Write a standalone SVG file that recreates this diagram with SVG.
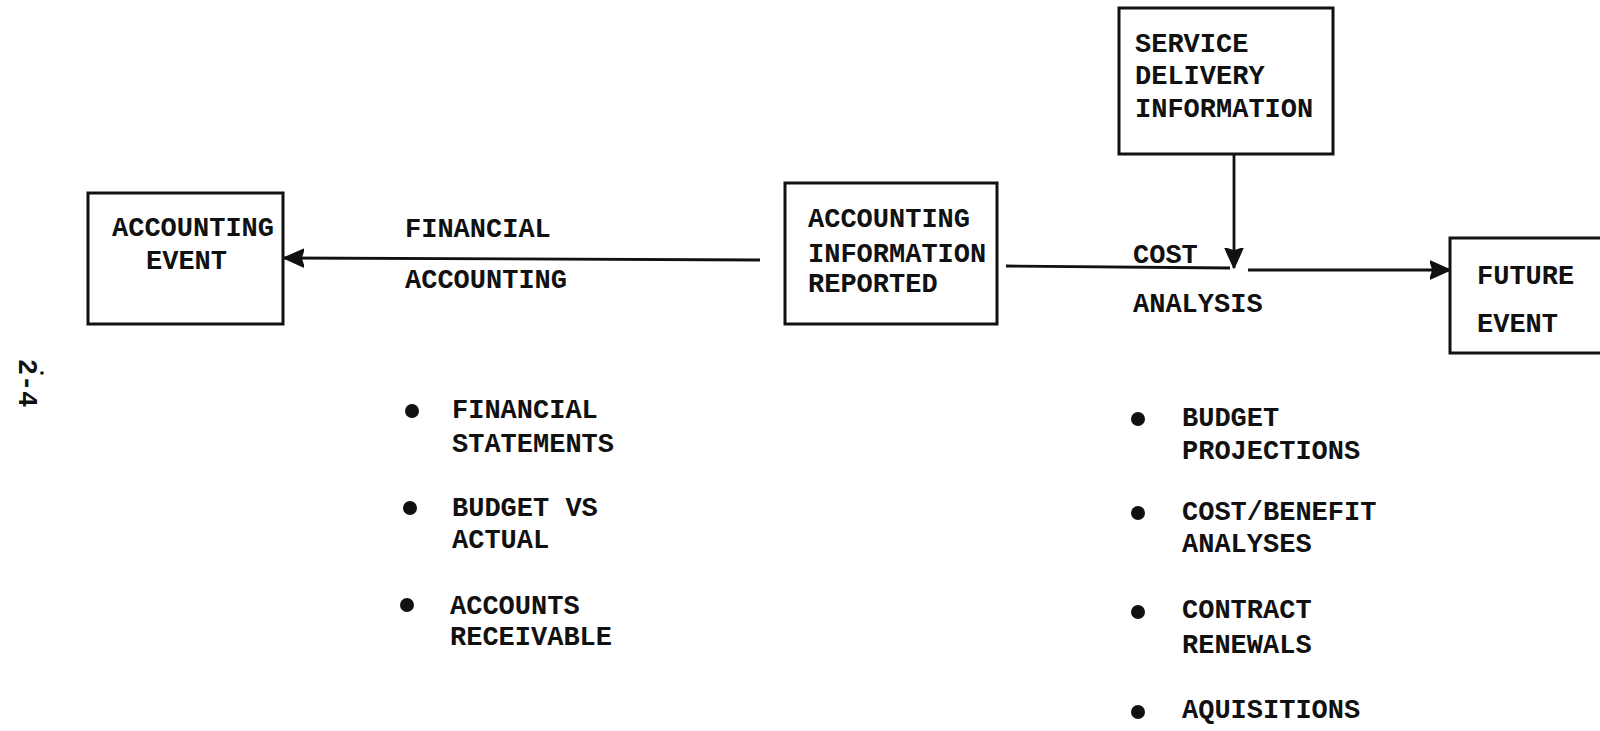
<svg xmlns="http://www.w3.org/2000/svg" width="1600" height="731" viewBox="0 0 1600 731">
<style>
  .box { fill: none; stroke: #111; stroke-width: 3; }
  .t { font-family: "Liberation Mono", "Courier New", monospace; font-weight: bold; font-size: 27px; fill: #111; }
  .conn { stroke: #111; stroke-width: 2.8; fill: none; }
  .dot { fill: #111; }
</style>
<defs>
  <marker id="arr" markerUnits="userSpaceOnUse" markerWidth="22" markerHeight="20" refX="20" refY="10" orient="auto">
    <path d="M0,1 L20,10 L0,19 L3,10 Z" fill="#111" stroke="#111" stroke-width="1.5" stroke-linejoin="round"/>
  </marker>
</defs>
<rect width="1600" height="731" fill="#fff"/>

<g id="page-number">
  <text class="t" font-size="26" transform="translate(27,383) rotate(90)" text-anchor="middle" y="8">2-4</text>
  <circle class="dot" cx="42" cy="373" r="1.8"/>
</g>

<g id="connectors">
  <line class="conn" x1="760" y1="260" x2="284" y2="258" marker-end="url(#arr)"/>
  <line class="conn" x1="1006" y1="266" x2="1230" y2="268"/>
  <line class="conn" x1="1234" y1="154" x2="1234" y2="268" marker-end="url(#arr)"/>
  <line class="conn" x1="1248" y1="270" x2="1450" y2="270" marker-end="url(#arr)"/>
</g>

<g id="accounting-event">
  <rect class="box" x="88" y="193" width="195" height="131"/>
  <text class="t" x="112" y="236">ACCOUNTING</text>
  <text class="t" x="146" y="269">EVENT</text>
</g>

<g id="financial-accounting-label">
  <text class="t" x="405" y="237">FINANCIAL</text>
  <text class="t" x="405" y="288">ACCOUNTING</text>
</g>

<g id="accounting-information-reported">
  <rect class="box" x="785" y="183" width="212" height="141"/>
  <text class="t" x="808" y="227">ACCOUNTING</text>
  <text class="t" x="808" y="262">INFORMATION</text>
  <text class="t" x="808" y="292">REPORTED</text>
</g>

<g id="service-delivery-information">
  <rect class="box" x="1119" y="8" width="214" height="146"/>
  <text class="t" x="1135" y="52">SERVICE</text>
  <text class="t" x="1135" y="84">DELIVERY</text>
  <text class="t" x="1135" y="117">INFORMATION</text>
</g>

<g id="cost-analysis-label">
  <text class="t" x="1133" y="263">COST</text>
  <text class="t" x="1133" y="312">ANALYSIS</text>
</g>

<g id="future-event">
  <rect class="box" x="1450" y="238" width="160" height="115"/>
  <text class="t" x="1477" y="284">FUTURE</text>
  <text class="t" x="1477" y="332">EVENT</text>
</g>

<g id="financial-list">
  <circle class="dot" cx="412" cy="411" r="7"/>
  <text class="t" x="452" y="418">FINANCIAL</text>
  <text class="t" x="452" y="452">STATEMENTS</text>
  <circle class="dot" cx="410" cy="508" r="7"/>
  <text class="t" x="452" y="516">BUDGET VS</text>
  <text class="t" x="452" y="548">ACTUAL</text>
  <circle class="dot" cx="407" cy="605" r="7"/>
  <text class="t" x="450" y="614">ACCOUNTS</text>
  <text class="t" x="450" y="645">RECEIVABLE</text>
</g>

<g id="cost-list">
  <circle class="dot" cx="1138" cy="419" r="7"/>
  <text class="t" x="1182" y="426">BUDGET</text>
  <text class="t" x="1182" y="459">PROJECTIONS</text>
  <circle class="dot" cx="1138" cy="513" r="7"/>
  <text class="t" x="1182" y="520">COST/BENEFIT</text>
  <text class="t" x="1182" y="552">ANALYSES</text>
  <circle class="dot" cx="1138" cy="612" r="7"/>
  <text class="t" x="1182" y="618">CONTRACT</text>
  <text class="t" x="1182" y="653">RENEWALS</text>
  <circle class="dot" cx="1138" cy="712" r="7"/>
  <text class="t" x="1182" y="718">AQUISITIONS</text>
</g>
</svg>
